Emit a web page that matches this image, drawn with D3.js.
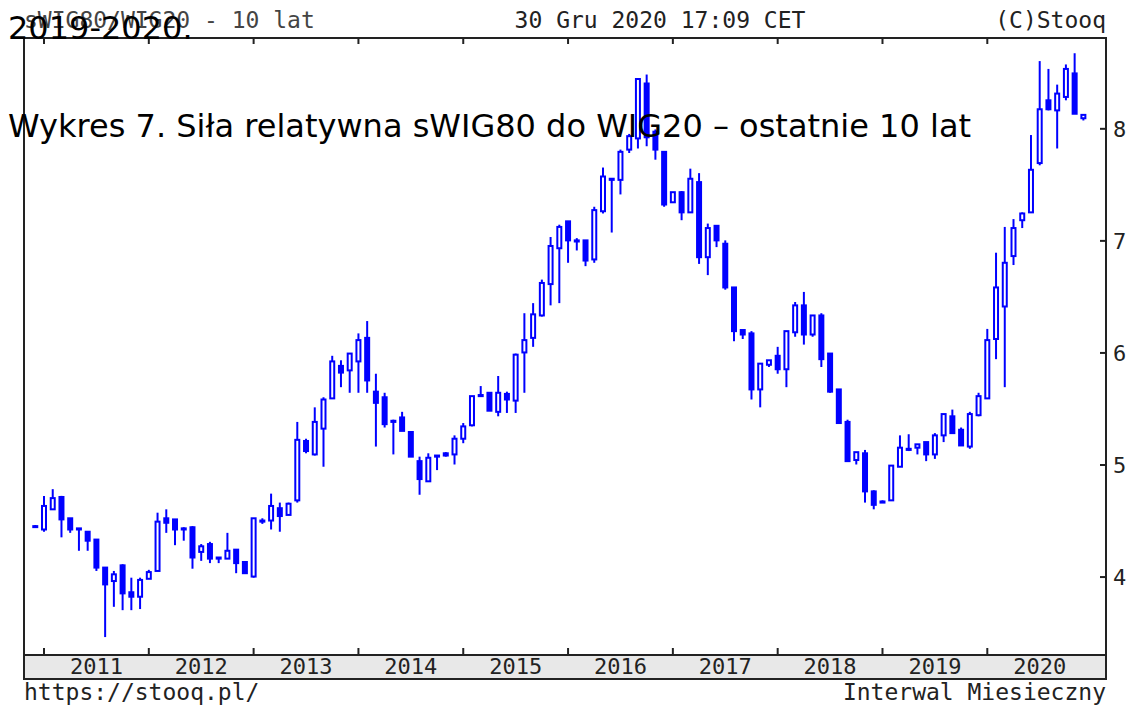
<!DOCTYPE html>
<html><head><meta charset="utf-8">
<script src="https://cdn.jsdelivr.net/npm/d3@7"></script>
<style>html,body{margin:0;padding:0;background:#fff;}svg{display:block;}</style>
</head><body>
<svg id="c" width="1130" height="707"></svg>
<script>
// ---- data (monthly candles, Dec 2010 .. Dec 2020) ----
const startMonth = "2010-12";
const openVals  = [4.45,4.42,4.60,4.71,4.52,4.43,4.40,4.33,4.08,3.96,4.10,3.86,3.82,3.98,4.05,4.52,4.51,4.43,4.44,4.22,4.29,4.17,4.16,4.24,4.13,4.00,4.49,4.50,4.61,4.55,
4.68,5.21,5.09,5.32,5.59,5.88,5.84,5.92,6.13,5.65,5.60,5.39,5.42,5.29,5.03,4.85,5.07,5.10,5.09,5.23,5.35,5.61,5.64,5.47,5.63,5.57,6.00,6.13,6.33,6.61,
6.93,7.17,6.99,7.00,6.83,7.26,7.55,7.54,7.81,7.91,8.40,7.97,7.79,7.34,7.43,7.25,7.52,6.85,7.13,6.97,6.58,6.20,6.17,5.67,5.89,5.97,5.85,6.18,6.42,6.16,
6.33,5.99,5.67,5.38,5.04,5.10,4.76,4.66,4.68,4.98,5.14,5.15,5.20,5.09,5.26,5.43,5.31,5.16,5.44,5.59,6.12,6.41,6.86,7.18,7.25,7.69,8.25,8.16,8.28,8.49,8.09];
const highVals  = [4.46,4.72,4.78,4.72,4.52,4.43,4.40,4.33,4.08,4.05,4.11,3.99,3.99,4.06,4.57,4.60,4.51,4.44,4.45,4.29,4.31,4.17,4.39,4.24,4.13,4.52,4.52,4.74,4.66,4.66,
5.38,5.23,5.51,5.60,5.97,5.93,5.99,6.17,6.28,5.81,5.64,5.40,5.47,5.29,5.07,5.10,5.08,5.11,5.26,5.37,5.61,5.70,5.64,5.79,5.65,5.99,6.35,6.44,6.65,7.03,
7.14,7.17,7.02,7.00,7.30,7.65,7.55,7.81,7.95,8.44,8.48,7.99,7.79,7.43,7.44,7.64,7.60,7.15,7.13,7.00,6.58,6.20,6.19,5.90,5.93,6.05,6.19,6.45,6.54,6.33,
6.35,5.99,5.67,5.40,5.11,5.13,4.77,4.68,4.99,5.26,5.27,5.18,5.20,5.28,5.45,5.49,5.33,5.47,5.64,6.21,6.89,7.12,7.19,7.25,7.94,8.60,8.53,8.39,8.57,8.67,8.12];
const lowVals   = [4.44,4.40,4.60,4.35,4.39,4.23,4.23,4.05,3.46,3.73,3.70,3.70,3.71,3.98,4.05,4.39,4.28,4.32,4.07,4.14,4.12,4.12,4.16,4.03,4.03,3.99,4.47,4.42,4.40,4.55,
4.66,5.10,5.08,4.98,5.59,5.69,5.64,5.64,5.64,5.16,5.33,5.09,5.30,5.07,4.73,4.85,4.95,5.07,5.00,5.19,5.34,5.61,5.48,5.43,5.46,5.46,5.64,6.05,6.32,6.42,
6.44,6.80,6.91,6.77,6.80,7.24,7.07,7.41,7.78,7.82,7.84,7.72,7.30,7.34,7.18,7.25,6.79,6.69,6.94,6.56,6.10,6.12,5.58,5.51,5.87,5.81,5.69,6.14,6.07,6.14,
5.87,5.64,5.37,5.03,5.00,4.66,4.60,4.66,4.68,4.98,5.12,5.09,5.03,5.05,5.20,5.28,5.17,5.14,5.43,5.59,5.94,5.69,6.78,7.11,7.25,7.67,8.16,7.82,8.25,8.13,8.07];
const closeVals = [4.45,4.63,4.70,4.51,4.42,4.42,4.32,4.08,3.93,4.02,3.85,3.82,3.97,4.04,4.49,4.48,4.42,4.42,4.17,4.27,4.16,4.16,4.23,4.12,4.03,4.52,4.50,4.63,4.54,4.65,
5.22,5.12,5.38,5.58,5.92,5.82,5.99,6.11,5.75,5.55,5.36,5.38,5.30,5.07,4.87,5.06,5.08,5.08,5.23,5.34,5.61,5.62,5.48,5.64,5.58,5.98,6.11,6.34,6.62,6.95,
7.12,7.00,7.00,6.82,7.27,7.57,7.54,7.79,7.93,8.44,7.92,7.81,7.32,7.43,7.25,7.55,6.85,7.11,7.00,6.58,6.19,6.16,5.67,5.90,5.93,5.85,6.19,6.42,6.16,6.33,
5.94,5.65,5.37,5.03,5.11,4.76,4.64,4.67,4.99,5.15,5.13,5.18,5.09,5.26,5.45,5.28,5.17,5.45,5.61,6.11,6.58,6.80,7.11,7.24,7.63,8.17,8.17,8.31,8.53,8.13,8.12];
const yearLabels = ["2011","2012","2013","2014","2015","2016","2017","2018","2019","2020"];
const yTicks = [4,5,6,7,8];
const headerLeft = "sWIG80/WIG20 - 10 lat";
const headerMid = "30 Gru 2020 17:09 CET";
const headerRight = "(C)Stooq";
const footerLeft = "https://stooq.pl/";
const footerRight = "Interwal Miesieczny";
const overlayTop = "2019-2020.";
const overlayTitle = "Wykres 7. Siła relatywna sWIG80 do WIG20 – ostatnie 10 lat";

// ---- layout ----
const L = 24, R = 1106, T = 38, B = 655, BAND = 679;
const blue = "#0000ff", ink = "#222";
const mono = "'DejaVu Sans Mono', monospace";
const svg = d3.select("#c");

const candles = openVals.map((o,i)=>({i, o, h:highVals[i], l:lowVals[i], c:closeVals[i]}));
// month index: 0 = Dec 2010; Jan of year Y => index 1 + 12*(Y-2011)
const x = d3.scaleLinear().domain([1, 109]).range([44, 987.3]);
const y = d3.scaleLinear().domain([3.30, 8.806]).range([B, T]);

// bottom band
svg.append("rect").attr("x",L).attr("y",B).attr("width",R-L).attr("height",BAND-B)
  .attr("fill","#e8e8e8").attr("stroke",ink).attr("stroke-width",2);

// candles
const g = svg.append("g");
g.selectAll("line.w").data(candles).join("line").attr("class","w")
  .attr("x1",d=>x(d.i)).attr("x2",d=>x(d.i))
  .attr("y1",d=>y(d.h)).attr("y2",d=>y(d.l))
  .attr("stroke",blue).attr("stroke-width",2);
g.selectAll("rect.b").data(candles).join("rect").attr("class","b")
  .attr("x",d=>x(d.i)-2).attr("width",4)
  .attr("y",d=>y(Math.max(d.o,d.c)))
  .attr("height",d=>Math.max(1, Math.abs(y(d.o)-y(d.c))))
  .attr("fill",d=>d.c>=d.o?"#fff":blue)
  .attr("stroke",blue).attr("stroke-width",2);

// frame
svg.append("rect").attr("x",L).attr("y",T).attr("width",R-L).attr("height",B-T)
  .attr("fill","none").attr("stroke",ink).attr("stroke-width",2);

// year ticks (top & bottom) and labels
const yearIdx = yearLabels.map((yl,k)=>1+12*k);
svg.selectAll("line.tt").data(yearIdx).join("line")
  .attr("x1",d=>x(d)).attr("x2",d=>x(d)).attr("y1",T).attr("y2",T+6)
  .attr("stroke",ink).attr("stroke-width",2);
svg.selectAll("line.tb").data(yearIdx).join("line")
  .attr("x1",d=>x(d)).attr("x2",d=>x(d)).attr("y1",B).attr("y2",B-7)
  .attr("stroke",ink).attr("stroke-width",2);
svg.selectAll("text.yl").data(yearLabels).join("text")
  .attr("x",(d,k)=>{const a=Math.max(L,x(1+12*k)), b=Math.min(R,x(13+12*k)); return (a+b)/2;})
  .attr("y",674).attr("text-anchor","middle")
  .attr("font-family",mono).attr("font-size",22).attr("fill",ink).text(d=>d);

// right axis
const yAxis = d3.axisRight(y).tickValues(yTicks).tickSize(0).tickPadding(0).tickFormat(d3.format("d"));
const ax = svg.append("g").attr("transform",`translate(${R},0)`).call(yAxis);
ax.select(".domain").remove();
ax.selectAll(".tick text").attr("x",7).attr("dy","0.36em")
  .attr("font-family",mono).attr("font-size",22).attr("fill",ink);
ax.selectAll(".tick").append("line").attr("x1",-6).attr("x2",0).attr("stroke",ink).attr("stroke-width",2);

// header / footer
const txt = (s,xx,yy,anchor,extra={})=>{
  const t = svg.append("text").attr("x",xx).attr("y",yy).attr("text-anchor",anchor)
    .attr("font-family",mono).attr("font-size",23).attr("fill",ink).text(s);
  Object.entries(extra).forEach(([k,v])=>t.attr(k,v));
  return t;
};
txt(headerLeft, L, 28, "start", {fill:"#444"});
txt(headerMid, 660, 28, "middle");
txt(headerRight, R, 28, "end");
txt(footerLeft, L, 700, "start");
txt(footerRight, R, 700, "end");

// overlay captions
svg.append("text").attr("x",8).attr("y",39).attr("font-family","'DejaVu Sans', sans-serif")
  .attr("font-size",32).attr("fill","#000").text(overlayTop);
svg.append("text").attr("x",8).attr("y",137).attr("font-family","'DejaVu Sans', sans-serif")
  .attr("font-size",32).attr("fill","#000").text(overlayTitle);
</script>
</body></html>
